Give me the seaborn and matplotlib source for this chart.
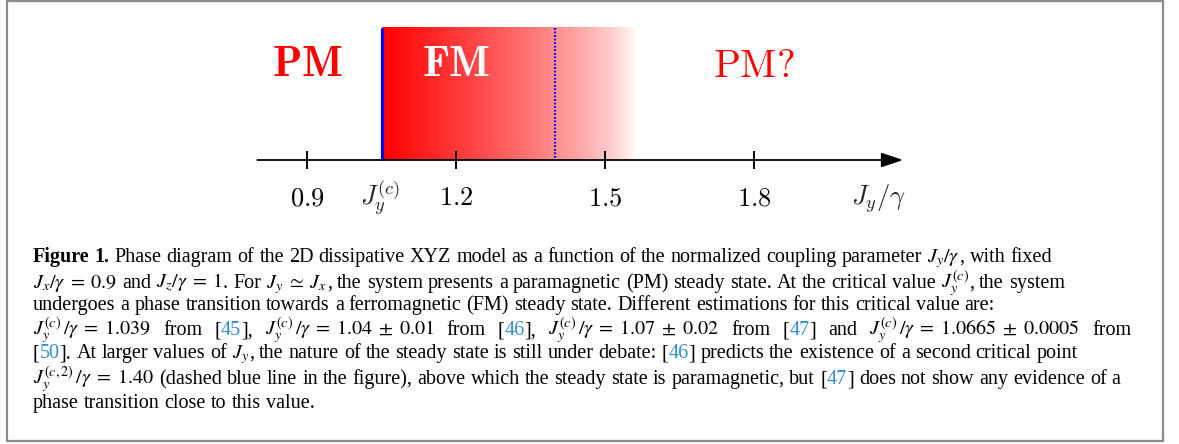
import re
import numpy as np
import matplotlib
matplotlib.use("Agg")
import matplotlib.pyplot as plt
import matplotlib.transforms as mtransforms
import seaborn as sns

# ---------------- data ----------------
tick_values = [0.9, 1.2, 1.5, 1.8]
tick_labels = ["0.9", "1.2", "1.5", "1.8"]
critical_point = 1.05          # J_y^(c)/gamma
second_critical_point = 1.40   # J_y^(c,2)/gamma (dotted blue line)
fade_end = 1.56                # where the FM shading fades out
axis_start = 0.80
axis_end = 2.10
phase_names = ["PM", "FM", "PM?"]
phase_x = [0.9, 1.2, 1.8]
phase_bold = [True, True, False]
phase_colors = ["#ff0000", "#ffffff", "#ff0000"]
axis_label = r"$J_y/\gamma$"
axis_label_x = 2.05
critical_label = r"$J_y^{(c)}$"

caption_lines = [
    r"*Figure* *1.* Phase diagram of the 2D dissipative XYZ model as a function of the normalized coupling parameter $J_y/\gamma$, with fixed",
    r"$J_x/\gamma\;=\;0.9$ and $J_z/\gamma\;=\;1$. For $J_y\;\simeq\;J_x$, the system presents a paramagnetic (PM) steady state. At the critical value $J_y^{(c)}$, the system",
    r"undergoes a phase transition towards a ferromagnetic (FM) steady state. Different estimations for this critical value are:",
    r"$J_y^{(c)}\,/\gamma\;=\;1.039$ from [45], $J_y^{(c)}\,/\gamma\;=\;1.04\;\pm\;0.01$ from [46], $J_y^{(c)}\,/\gamma\;=\;1.07\;\pm\;0.02$ from [47] and $J_y^{(c)}\,/\gamma\;=\;1.0665\;\pm\;0.0005$ from",
    r"[50]. At larger values of $J_y$, the nature of the steady state is still under debate: [46] predicts the existence of a second critical point",
    r"$J_y^{(c,2)}\,/\gamma\;=\;1.40$ (dashed blue line in the figure), above which the steady state is paramagnetic, but [47] does not show any evidence of a",
    r"phase transition close to this value.",
]
caption_justify = [False, False, False, True, False, False, False]

# ---------------- layout ----------------
W, H = 1179, 444
sns.set_theme(style="white")
plt.rcParams["font.family"] = ["Liberation Serif", "DejaVu Serif"]
plt.rcParams["mathtext.fontset"] = "stix"

fig = plt.figure(figsize=(W / 100, H / 100), dpi=100)
fig.patch.set_facecolor("white")
ax = fig.add_axes([0, 0, 1, 1])
ax.set_facecolor("none")

AX_Y = 160
TOP_Y = 28
px_per_unit = 496.7
x0 = 0.9 - 307 / px_per_unit
x1 = x0 + W / px_per_unit

# FM shading (red fading to white)
t = np.linspace(0, 1, 512)
alpha = (1 - t) ** 0.7
rgba = np.zeros((1, t.size, 4))
rgba[..., 0] = 1.0
rgba[..., 3] = alpha
ax.imshow(rgba, extent=[critical_point, fade_end, AX_Y, TOP_Y], aspect="auto",
          interpolation="bilinear", zorder=1)

# critical lines
ax.plot([critical_point, critical_point], [TOP_Y, AX_Y], color="#0000ff", lw=2.3,
        solid_capstyle="butt", zorder=3)
ax.plot([second_critical_point, second_critical_point], [TOP_Y, AX_Y], color="#0000ff",
        lw=1.6, linestyle=(0, (0.8, 0.8)), zorder=3)

# axis with arrow
ax.annotate("", xy=(axis_end, AX_Y), xytext=(axis_start, AX_Y),
            arrowprops=dict(arrowstyle="-|>,head_length=0.95,head_width=0.32",
                            lw=1.3, color="black", shrinkA=0, shrinkB=0,
                            mutation_scale=14), zorder=4)

# ticks
sns.scatterplot(x=tick_values, y=[AX_Y] * len(tick_values), marker="|", s=170,
                color="black", linewidth=1.4, ax=ax, zorder=4, legend=False)

for v, lbl in zip(tick_values, tick_labels):
    ax.text(v, 205, f"${lbl}$", ha="center", va="baseline", fontsize=19,
            math_fontfamily="cm", color="black")
ax.text(critical_point - 0.003, 205, critical_label, ha="center", va="baseline",
        fontsize=19, math_fontfamily="cm")
ax.text(axis_label_x, 205, axis_label, ha="center", va="baseline", fontsize=19,
        math_fontfamily="cm")

for name, xp, bold, col in zip(phase_names, phase_x, phase_bold, phase_colors):
    if bold:
        ax.text(xp, 76, rf"$\mathbf{{{name}}}$", ha="center", va="baseline",
                fontsize=31, math_fontfamily="cm", color=col, zorder=5)
    else:
        ax.text(xp, 77, rf"$\mathrm{{{name}}}$", ha="center", va="baseline",
                fontsize=28.5, math_fontfamily="cm", color=col, zorder=5)

ax.set_xlim(x0, x1)
ax.set_ylim(H, 0)
ax.axis("off")

# ---------------- caption ----------------
pix = mtransforms.Affine2D().scale(1 / W, -1 / H).translate(0, 1) + fig.transFigure
renderer = fig.canvas.get_renderer()

CAP_FS = 14.5
LINK = "#2f8fd0"
baselines = [262, 288, 310, 335, 358, 384, 408]
CAP_LEFT = 33
CAP_RIGHT = 1131


def parse(line):
    pieces = []
    pending = False
    for tok in re.split(r"(\$[^$]*\$)", line):
        if tok == "":
            continue
        if tok.startswith("$"):
            pieces.append([tok, "black", "normal", pending])
            pending = False
            continue
        words = tok.split(" ")
        for i, w in enumerate(words):
            if i > 0:
                pending = True
            if w == "":
                continue
            weight = "normal"
            if w.startswith("*") and w.endswith("*"):
                w = w[1:-1]
                weight = "bold"
            parts = re.split(r"(?<=\[)(\d+)(?=\])", w)
            first = True
            for j, p in enumerate(parts):
                if p == "":
                    continue
                col = LINK if (j % 2 == 1) else "black"
                pieces.append([p, col, weight, pending if first else False])
                first = False
            pending = False
    return pieces


space_w = 0.25 * CAP_FS * 100 / 72
for line, yb, just in zip(caption_lines, baselines, caption_justify):
    pcs = parse(line)
    objs = []
    for txt, col, wt, sp in pcs:
        o = fig.text(0, yb, txt, transform=pix, fontsize=CAP_FS, color=col,
                     fontweight=wt, va="baseline", ha="left")
        objs.append((o, sp))
    widths = [o.get_window_extent(renderer).width for o, _ in objs]
    n_sp = sum(1 for _, sp in objs if sp)
    natural = sum(widths) + n_sp * space_w
    gap = space_w
    if just and n_sp:
        gap = space_w + (CAP_RIGHT - CAP_LEFT - natural) / n_sp
    x = CAP_LEFT
    for (o, sp), w in zip(objs, widths):
        if sp:
            x += gap
        o.set_x(x)
        x += w

# border
fig.patches.append(plt.Rectangle((6.5, 1.5), 1156, 439.5, transform=pix, fill=False,
                                 edgecolor="#8c8c8c", lw=1.6))

fig.savefig("out.png", dpi=100, facecolor="white")
